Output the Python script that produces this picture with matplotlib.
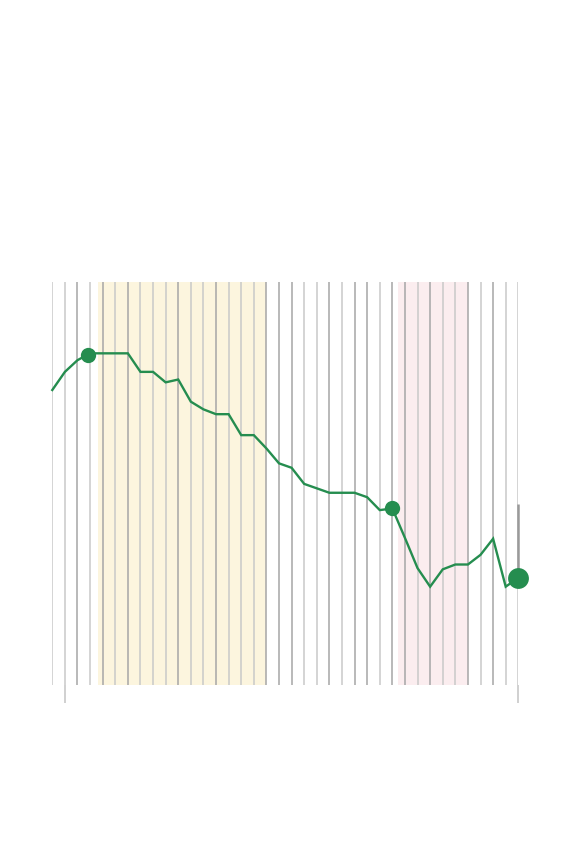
#!/usr/bin/env python
# weekly index line with shaded periods
import numpy as np
import matplotlib
matplotlib.use('Agg')
import matplotlib.pyplot as plt

#start from here
weeks = np.arange(38)
values = [73.2, 77.7, 80.6, 82.3, 82.3, 82.3, 82.3, 77.7, 77.7, 75.1,
          75.8, 70.3, 68.4, 67.2, 67.2, 62.0, 62.0, 58.7, 55.0, 53.9,
          49.9, 48.8, 47.7, 47.7, 47.7, 46.6, 43.4, 43.8, 36.5, 29.0,
          24.4, 28.7, 29.9, 29.9, 32.3, 36.3, 24.4, 26.6]
dark_weeks = [2, 4, 6, 10, 13, 17, 18, 19, 22, 24, 25, 27, 28, 30, 33, 35]
long_weeks = [1, 37]
period_a = (3.65, 17.0)
period_b = (27.46, 33.0)
dot_weeks = [2.8, 27]
last_week = 37
stem_top = 45.0

green = '#258d4f'

def wyplot():
    fig = plt.figure(figsize=(5.76, 8.52), dpi=100)
    ax = fig.add_axes([52.3/576, 167/852, 466/576, 403/852])
    ax.set_xlim(0, 37)
    ax.set_ylim(0, 100)
    ax.axis('off')

    ax.axvspan(*period_a, color='#fcf5de', lw=0, zorder=0)
    ax.axvspan(*period_b, color='#fbedef', lw=0, zorder=0)

    colors = ['#a6a6a6' if w in dark_weeks else '#c9c9c9' for w in weeks]
    ax.vlines(weeks, 0, 100, colors=colors, lw=1.1, zorder=1)
    ax.vlines(long_weeks, -4.5, 0, colors='#c4c4c4', lw=1.1, zorder=1, clip_on=False)

    # stem above the latest value
    ax.vlines(last_week, values[last_week], stem_top, colors='#9a9a9a', lw=1.8, zorder=2, clip_on=False)

    ax.plot(weeks, values, color=green, lw=1.7, zorder=3, clip_on=False, solid_joinstyle='miter')
    ax.plot(dot_weeks, np.interp(dot_weeks, weeks, values), 'o', color=green, ms=11, mec='none', zorder=4, clip_on=False)
    ax.plot([last_week], [values[last_week]], 'o', color=green, ms=15, mec='none', zorder=4, clip_on=False)
    return fig

if __name__ == '__main__':
    fig = wyplot()
    fig.savefig('out.png', dpi=100)
